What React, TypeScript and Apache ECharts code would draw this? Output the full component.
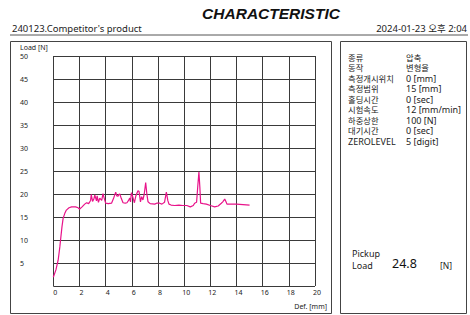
import React, { useEffect, useRef } from "react";
import * as echarts from "echarts";

const defX: number[] = [0,0.2,0.37,0.5,0.57,0.66,0.75,0.88,1.0,1.2,1.4,1.7,1.9,2.0,2.2,2.4,2.55,2.7,2.85,2.9,3.0,3.1,3.17,3.3,3.35,3.45,3.55,3.7,3.8,3.9,4.0,4.2,4.45,4.6,4.77,4.85,4.95,5.0,5.08,5.2,5.33,5.5,5.63,5.75,5.84,5.9,5.97,6.05,6.2,6.3,6.47,6.55,6.66,6.75,6.85,6.95,7.06,7.15,7.24,7.4,7.75,7.9,8.13,8.3,8.5,8.64,8.75,8.84,9.0,9.27,9.6,9.9,10.2,10.47,10.7,10.8,10.95,11.05,11.13,11.2,11.26,11.45,11.7,12.0,12.33,12.6,12.84,12.95,13.1,13.2,13.27,13.6,14.0,14.5,15.0];
const loadY: number[] = [1.9,3.5,5.6,8.5,10.4,12.8,14.7,15.8,16.5,17.0,17.2,17.2,17.0,16.7,17.2,17.8,18.1,17.9,18.6,19.9,18.4,18.9,19.8,18.5,19.6,18.2,19.1,18.6,20.1,19.0,18.0,17.9,18.0,19.0,20.4,19.6,19.5,19.9,20.0,19.0,18.1,18.0,18.1,18.6,19.1,18.3,20.3,19.6,18.1,19.5,20.7,20.6,18.3,19.4,18.7,20.0,22.5,20.0,18.3,17.9,17.8,18.0,18.0,17.8,18.2,20.4,18.6,17.8,17.6,17.5,17.6,17.5,17.5,17.2,17.5,18.0,18.2,22.0,24.8,21.5,18.0,17.9,17.8,17.5,17.2,17.4,18.0,18.3,18.9,18.3,17.8,17.8,17.8,17.7,17.6];

const title = "CHARACTERISTIC";
const sampleName = "240123.Competitor's product";
const dateText = "2024-01-23 오후 2:04";
const paramLabels: string[] = ["종류","동작","측정개시위치","측정범위","홀딩시간","시험속도","하중상한","대기시간","ZEROLEVEL"];
const paramValues: string[] = ["압축","변형율","0 [mm]","15 [mm]","0 [sec]","12 [mm/min]","100 [N]","0 [sec]","5 [digit]"];
const pickupValue = "24.8";

const FONT = "'Noto Sans', 'Noto Sans CJK KR', sans-serif";

export default function App() {
  const ref = useRef<HTMLDivElement>(null);
  useEffect(() => {
    if (!ref.current) return;
    const chart = echarts.init(ref.current, null, { renderer: "svg" });
    const gridColor = "#3a3a3a";
    const txt = (x: number, y: number, text: string, size: number, align: string, extra: any = {}) => ({
      type: "text", x, y,
      style: { text, font: `${size}px ${FONT}`, fill: "#222", textAlign: align, textVerticalAlign: "middle", lineHeight: size, ...extra },
    });
    const graphics: any[] = [
      { type: "text", x: 271, y: 13, style: { text: title, font: `italic bold 15.5px 'Liberation Sans', Arial, sans-serif`, fill: "#111", textAlign: "center", textVerticalAlign: "middle" } },
      txt(12, 28, sampleName, 9.5, "left"),
      txt(467, 28, dateText, 9.5, "right"),
      { type: "line", shape: { x1: 10, y1: 35, x2: 468, y2: 35 }, style: { stroke: "#555", lineWidth: 1 } },
      { type: "rect", shape: { x: 10.5, y: 41.5, width: 321, height: 272 }, style: { fill: "none", stroke: "#444", lineWidth: 1 } },
      { type: "rect", shape: { x: 340.5, y: 41.5, width: 126, height: 272 }, style: { fill: "none", stroke: "#444", lineWidth: 1 } },
      txt(20, 47, "Load [N]", 7, "left"),
      txt(327, 306, "Def. [mm]", 7, "right"),
      txt(352, 253, "Pickup", 9, "left"),
      txt(352, 265, "Load", 9, "left"),
      txt(392, 263, pickupValue, 12.5, "left", { fill: "#111" }),
      txt(440, 265, "[N]", 8.5, "left"),
    ];
    paramLabels.forEach((lab, i) => {
      const y = 57 + i * 10.5;
      const isKo = /[\uac00-\ud7a3]/.test(lab);
      graphics.push(txt(348, y, lab, isKo ? 8.3 : 9, "left"));
      const vKo = /[\uac00-\ud7a3]/.test(paramValues[i]);
      graphics.push(txt(406, y, paramValues[i], vKo ? 8.3 : 9, "left"));
    });

    chart.setOption({
      animation: false,
      backgroundColor: "#fff",
      grid: { left: 53.3, right: 155, top: 56, bottom: 29, containLabel: false },
      xAxis: {
        type: "value", min: 0, max: 20, interval: 2,
        axisLine: { show: false }, axisTick: { show: false },
        splitLine: { show: true, lineStyle: { color: gridColor, width: 1 } },
        axisLabel: { fontSize: 7, color: "#222", fontFamily: FONT, margin: 3, padding: [0, 0, 0, 4] },
      },
      yAxis: {
        type: "value", min: 0, max: 50, interval: 5,
        axisLine: { show: false }, axisTick: { show: false },
        splitLine: { show: true, lineStyle: { color: gridColor, width: 1 } },
        axisLabel: { fontSize: 7, color: "#222", fontFamily: FONT, align: "left", margin: 33.3, formatter: (v: number) => (v === 0 ? "" : String(v)) },
      },
      series: [{
        type: "line",
        data: defX.map((x, i) => [x, loadY[i]]),
        showSymbol: false,
        lineStyle: { color: "#e8138a", width: 1.2 },
        itemStyle: { color: "#e8138a" },
      }],
      graphic: graphics,
    });
    return () => chart.dispose();
  }, []);
  return <div ref={ref} style={{ position: "fixed", left: 0, top: 0, width: 470, height: 315 }} />;
}
